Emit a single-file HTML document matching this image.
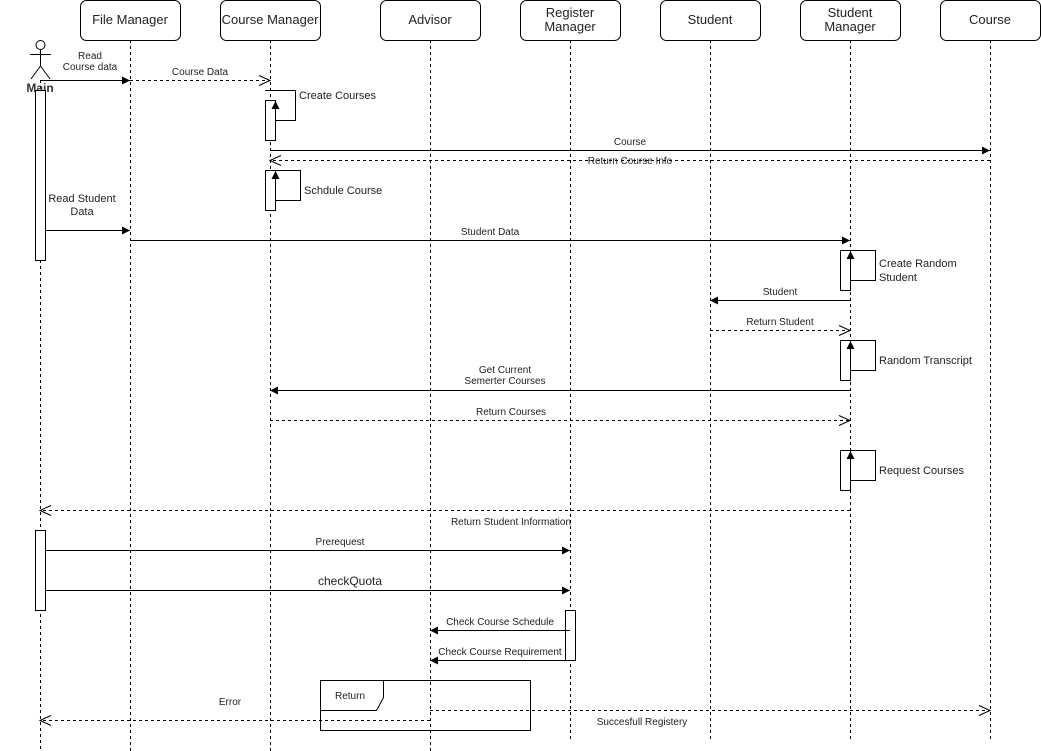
<!DOCTYPE html>
<html><head><meta charset="utf-8"><style>
html,body{margin:0;padding:0;background:#fff;}
svg{display:block;font-family:"Liberation Sans",Arial,sans-serif;}
</style></head><body>
<svg width="1041" height="751" viewBox="0 0 1041 751" xmlns="http://www.w3.org/2000/svg">
<defs>
<marker id="f" markerWidth="10" markerHeight="10" refX="9" refY="5" orient="auto" markerUnits="userSpaceOnUse"><path d="M1,1 L9,5 L1,9 Z" fill="#000"/></marker>
<marker id="o" markerWidth="14" markerHeight="12" refX="12" refY="6" orient="auto" markerUnits="userSpaceOnUse"><path d="M1,1 L12,6 L1,11" fill="none" stroke="#000"/></marker>
</defs>
<g fill="#fff" stroke="#000" stroke-width="1">
<rect x="80.5" y="0.5" width="100" height="40" rx="6"/>
<rect x="220.5" y="0.5" width="100" height="40" rx="6"/>
<rect x="380.5" y="0.5" width="100" height="40" rx="6"/>
<rect x="520.5" y="0.5" width="100" height="40" rx="6"/>
<rect x="660.5" y="0.5" width="100" height="40" rx="6"/>
<rect x="800.5" y="0.5" width="100" height="40" rx="6"/>
<rect x="940.5" y="0.5" width="100" height="40" rx="6"/>
</g>
<g font-size="13" text-anchor="middle" fill="#222">
<text x="130" y="24">File Manager</text>
<text x="270" y="24">Course Manager</text>
<text x="430" y="24">Advisor</text>
<text x="570" y="17">Register</text><text x="570" y="31">Manager</text>
<text x="710" y="24">Student</text>
<text x="850" y="17">Student</text><text x="850" y="31">Manager</text>
<text x="990" y="24">Course</text>
</g>
<g stroke="#000" stroke-dasharray="3,3" fill="none">
<line x1="40.5" y1="80" x2="40.5" y2="751"/>
<line x1="130.5" y1="40" x2="130.5" y2="751"/>
<line x1="270.5" y1="40" x2="270.5" y2="751"/>
<line x1="430.5" y1="40" x2="430.5" y2="751"/>
<line x1="570.5" y1="40" x2="570.5" y2="740"/>
<line x1="710.5" y1="40" x2="710.5" y2="740"/>
<line x1="850.5" y1="40" x2="850.5" y2="740"/>
<line x1="990.5" y1="40" x2="990.5" y2="740"/>
</g>
<g stroke="#000" fill="#fff">
<circle cx="40.5" cy="45" r="4.5"/>
<line x1="40.5" y1="50" x2="40.5" y2="66"/>
<line x1="30" y1="54.5" x2="51" y2="54.5"/>
<line x1="40.5" y1="66" x2="31" y2="79"/>
<line x1="40.5" y1="66" x2="50" y2="79"/>
</g>
<text x="40" y="92" font-size="12" font-weight="bold" text-anchor="middle" fill="#333">Main</text>
<g fill="#fff" stroke="#000">
<rect x="35.5" y="90.5" width="10" height="170"/>
<rect x="35.5" y="530.5" width="10" height="80"/>
<rect x="265.5" y="100.5" width="10" height="40"/>
<rect x="265.5" y="170.5" width="10" height="40"/>
<rect x="840.5" y="250.5" width="10" height="40"/>
<rect x="840.5" y="340.5" width="10" height="40"/>
<rect x="840.5" y="450.5" width="10" height="40"/>
<rect x="565.5" y="610.5" width="10" height="50"/>
</g>
<g fill="none" stroke="#000">
<path d="M265,90.5 H295.5 V120.5 H275.5 V101" marker-end="url(#f)"/>
<path d="M275.5,170.5 H300.5 V200.5 H275.5 V171" marker-end="url(#f)"/>
<path d="M850.5,250.5 H875.5 V280.5 H850.5 V251" marker-end="url(#f)"/>
<path d="M850.5,340.5 H875.5 V370.5 H850.5 V341" marker-end="url(#f)"/>
<path d="M850.5,450.5 H875.5 V480.5 H850.5 V451" marker-end="url(#f)"/>
</g>
<g stroke="#000" fill="none" marker-end="url(#f)">
<line x1="40" y1="80.5" x2="130" y2="80.5"/>
<line x1="270" y1="150.5" x2="990" y2="150.5"/>
<line x1="45" y1="230.5" x2="130" y2="230.5"/>
<line x1="130" y1="240.5" x2="850" y2="240.5"/>
<line x1="850" y1="300.5" x2="710" y2="300.5"/>
<line x1="850" y1="390.5" x2="270" y2="390.5"/>
<line x1="45" y1="550.5" x2="570" y2="550.5"/>
<line x1="45" y1="590.5" x2="570" y2="590.5"/>
<line x1="570" y1="630.5" x2="430" y2="630.5"/>
<line x1="565" y1="660.5" x2="430" y2="660.5"/>
</g>
<g stroke="#000" fill="none" stroke-dasharray="3,3" marker-end="url(#o)">
<line x1="130" y1="80.5" x2="270" y2="80.5"/>
<line x1="990" y1="160.5" x2="270" y2="160.5"/>
<line x1="710" y1="330.5" x2="850" y2="330.5"/>
<line x1="270" y1="420.5" x2="850" y2="420.5"/>
<line x1="850" y1="510.5" x2="40" y2="510.5"/>
<line x1="430" y1="710.5" x2="990" y2="710.5"/>
<line x1="430" y1="720.5" x2="40" y2="720.5"/>
</g>
<g fill="none" stroke="#000">
<rect x="320.5" y="680.5" width="210" height="50"/>
<path d="M320.5,710.5 H376.5 L383.5,697.5 V680.5"/>
</g>
<g font-size="10" text-anchor="middle" fill="#222">
<text x="90" y="59">Read</text><text x="90" y="70">Course data</text>
<text x="200" y="75">Course Data</text>
<text x="630" y="145">Course</text>
<text x="630" y="164">Return Course Info</text>
<text x="490" y="235">Student Data</text>
<text x="780" y="295">Student</text>
<text x="780" y="325">Return Student</text>
<text x="505" y="373">Get Current</text><text x="505" y="384">Semerter Courses</text>
<text x="511" y="415">Return Courses</text>
<text x="511" y="525">Return Student Information</text>
<text x="340" y="545">Prerequest</text>
<text x="500" y="625">Check Course Schedule</text>
<text x="500" y="655">Check Course Requirement</text>
<text x="350" y="699">Return</text>
<text x="230" y="705">Error</text>
<text x="642" y="725">Succesfull Registery</text>
</g>
<g font-size="11" fill="#222">
<text x="299" y="99">Create Courses</text>
<text x="304" y="194">Schdule Course</text>
<text x="82" y="202" text-anchor="middle">Read Student</text>
<text x="82" y="215" text-anchor="middle">Data</text>
<text x="879" y="267">Create Random</text>
<text x="879" y="281">Student</text>
<text x="879" y="364">Random Transcript</text>
<text x="879" y="474">Request Courses</text>
<text x="350" y="585" font-size="12" text-anchor="middle">checkQuota</text>
</g>
</svg>
</body></html>
